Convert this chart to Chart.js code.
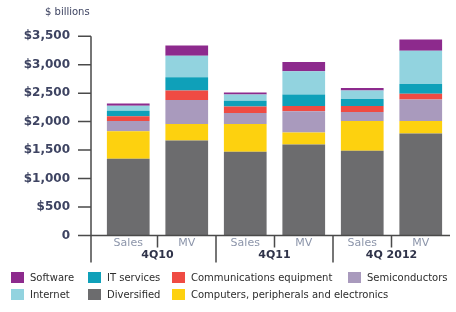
<!DOCTYPE html>
<html>
<head>
<meta charset="utf-8">
<script src="https://cdn.jsdelivr.net/npm/chart.js@4.4.1/dist/chart.umd.min.js"></script>
<style>
  html, body { margin: 0; padding: 0; background: #fff; }
  #wrap { position: relative; width: 456px; height: 312px; }
  #legend { position: absolute; left: 11px; top: 271px; display: grid; grid-template-columns: 77px 84px 176px auto; row-gap: 5px;
    font: 10px 'DejaVu Sans'; color: #2d2d2d; }
  .item { display: flex; align-items: center; height: 12px; white-space: nowrap; }
  .box { width: 13px; height: 11px; margin-right: 6px; flex: none; }
</style>
</head>
<body>
<div id="wrap">
  <canvas id="chart" width="456" height="312"></canvas>
  <div id="legend"></div>
</div>
<script>
const categories = ['Sales', 'MV', 'Sales', 'MV', 'Sales', 'MV']
const periods = ['4Q10', '4Q11', '4Q 2012']

// $ billions, stacked bottom to top
const diversified = [1350, 1670, 1470, 1600, 1490, 1790]
const computers = [480, 290, 490, 210, 520, 220]
const semiconductors = [180, 420, 190, 370, 160, 380]
const communications = [85, 165, 115, 95, 105, 100]
const itServices = [95, 235, 100, 200, 120, 170]
const internet = [90, 375, 110, 410, 150, 585]
const software = [40, 180, 35, 160, 45, 195]

const legendOrder = ['Software', 'IT services', 'Communications equipment', 'Semiconductors',
  'Internet', 'Diversified', 'Computers, peripherals and electronics']

const yMax = 3500
const fontFamily = "'DejaVu Sans', sans-serif"

const series = [
  { label: 'Diversified', data: diversified, color: '#6c6c6e' },
  { label: 'Computers, peripherals and electronics', data: computers, color: '#fdd10f' },
  { label: 'Semiconductors', data: semiconductors, color: '#a99abd' },
  { label: 'Communications equipment', data: communications, color: '#ef4b43' },
  { label: 'IT services', data: itServices, color: '#0fa0b9' },
  { label: 'Internet', data: internet, color: '#92d3df' },
  { label: 'Software', data: software, color: '#8d2a8d' }
]

// axis lines, separators and period labels
const axisDecor = {
  id: 'axisDecor',
  afterDatasetsDraw(chart) {
    const { ctx, chartArea, scales: { x, y } } = chart
    const axisX = chartArea.left - 8
    const base = y.getPixelForValue(0)
    ctx.save()
    ctx.strokeStyle = '#4a4a4a'
    ctx.lineWidth = 1.5
    ctx.beginPath()
    ctx.moveTo(axisX, y.getPixelForValue(yMax))
    ctx.lineTo(axisX, base + 27)
    y.ticks.forEach(t => {
      const py = y.getPixelForValue(t.value)
      ctx.moveTo(axisX - 13, py)
      ctx.lineTo(axisX, py)
    })
    ctx.moveTo(axisX, base)
    ctx.lineTo(chartArea.right, base)
    for (let i = 0; i < categories.length - 1; i++) {
      const px = (x.getPixelForValue(i) + x.getPixelForValue(i + 1)) / 2
      ctx.moveTo(px, base)
      ctx.lineTo(px, base + (i % 2 ? 27 : 12))
    }
    ctx.stroke()

    ctx.fillStyle = '#2f3349'
    ctx.font = 'bold 11px ' + fontFamily
    ctx.textAlign = 'center'
    ctx.textBaseline = 'middle'
    periods.forEach((p, i) => {
      const px = (x.getPixelForValue(i * 2) + x.getPixelForValue(i * 2 + 1)) / 2
      ctx.fillText(p, px, base + 20)
    })

    ctx.fillStyle = '#3e4462'
    ctx.font = '10px ' + fontFamily
    ctx.textAlign = 'left'
    ctx.fillText('$ billions', 45, 12)
    ctx.restore()
  }
}

const htmlLegend = {
  id: 'htmlLegend',
  afterUpdate(chart) {
    const box = document.getElementById('legend')
    box.innerHTML = ''
    const items = chart.options.plugins.legend.labels.generateLabels(chart)
    items.sort((a, b) => legendOrder.indexOf(a.text) - legendOrder.indexOf(b.text))
    items.forEach(item => {
      const el = document.createElement('div')
      el.className = 'item'
      const sw = document.createElement('span')
      sw.className = 'box'
      sw.style.background = item.fillStyle
      const tx = document.createElement('span')
      tx.textContent = item.text
      el.appendChild(sw)
      el.appendChild(tx)
      box.appendChild(el)
    })
  }
}

new Chart(document.getElementById('chart'), {
  type: 'bar',
  data: {
    labels: categories,
    datasets: series.map(s => ({
      label: s.label,
      data: s.data,
      backgroundColor: s.color,
      borderWidth: 0,
      barPercentage: 0.73,
      categoryPercentage: 1
    }))
  },
  options: {
    responsive: false,
    animation: false,
    layout: { padding: { top: 25, right: 6, left: 0, bottom: 0 } },
    plugins: { legend: { display: false }, tooltip: { enabled: false } },
    scales: {
      x: {
        stacked: true,
        grid: { display: false, drawTicks: false },
        border: { display: false },
        ticks: { padding: 1, color: '#8c95aa', font: { family: fontFamily, size: 11 } },
        afterFit: s => { s.height = 76.5 }
      },
      y: {
        stacked: true,
        min: 0,
        max: yMax,
        grid: { display: false, drawTicks: false },
        border: { display: false },
        ticks: {
          stepSize: 500,
          padding: 29,
          color: '#3e4462',
          font: { family: fontFamily, size: 12, weight: 'bold' },
          callback: v => v === 0 ? '0' : '$' + v.toLocaleString('en-US')
        },
        afterFit: s => { s.width = 99 }
      }
    }
  },
  plugins: [axisDecor, htmlLegend]
})
</script>
</body>
</html>
